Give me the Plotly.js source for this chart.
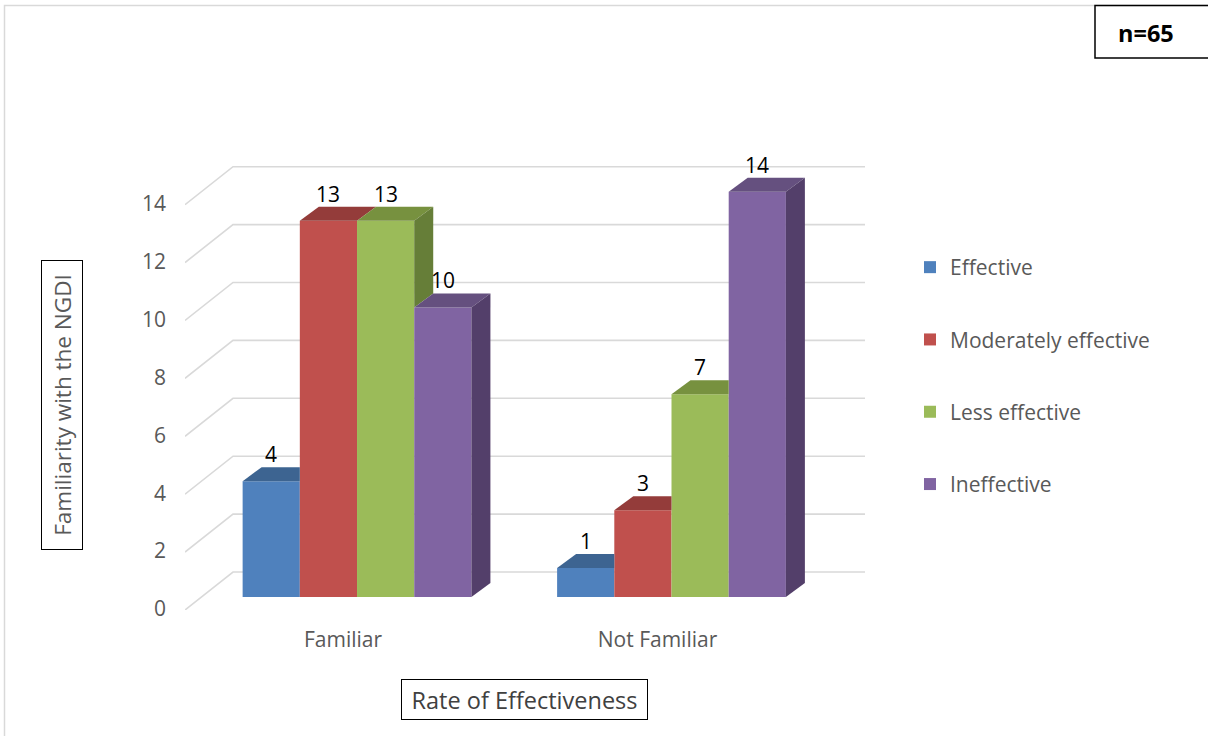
<!DOCTYPE html>
<html>
<head>
<meta charset="utf-8">
<script src="https://cdn.plot.ly/plotly-3.0.1.min.js"></script>
<style>
  html, body { margin: 0; padding: 0; background: #ffffff; }
  #chart { width: 1208px; height: 736px; }
</style>
</head>
<body>
<div id="chart"></div>
<script>
// ---- data ----
const categories = ['Familiar', 'Not Familiar'];
const seriesNames = ['Effective', 'Moderately effective', 'Less effective', 'Ineffective'];
const effective = [4, 1];
const moderatelyEffective = [13, 3];
const lessEffective = [13, 7];
const ineffective = [10, 14];
const yTickValues = [0, 2, 4, 6, 8, 10, 12, 14];
const sampleSizeLabel = 'n=65';
const xTitle = 'Rate of Effectiveness';
const yTitle = 'Familiarity with the NGDI';

const seriesValues = [effective, moderatelyEffective, lessEffective, ineffective];

// ---- styling ----
const frontColors = ['#4F81BD', '#C0504D', '#9BBB59', '#8064A2'];
const topColors   = ['#3D6491', '#943C3A', '#77913F', '#65507F'];
const sideColors  = ['#385C86', '#863633', '#667E38', '#533F6A'];
const FONT = 'Open Sans, Noto Sans, sans-serif';
const TEXT_GREY = '#595959';
const GRID_GREY = '#D9D9D9';

// ---- page / plot geometry (pixels) ----
const W = 1208, H = 736;
const margin = { l: 185, r: 343, t: 150, b: 126, pad: 0 };
const plotW = W - margin.l - margin.r;
const plotH = H - margin.t - margin.b;
const xRange = [-0.547, 1.6153];
const yRange = [-0.449, 15.44];
const pxPerX = plotW / (xRange[1] - xRange[0]);
const pxPerY = plotH / (yRange[1] - yRange[0]);
const bargap = 0.2725;
const barWidth = (1 - bargap) / seriesNames.length;

// depth of a single bar and of the whole floor, converted to axis units
const barDepth = { dx: 19 / pxPerX, dy: 14 / pxPerY };
const wallDepth = { dx: 48 / pxPerX, dy: 38 / pxPerY };
const floorFront = yRange[0];

// paper-coordinate helpers for page decorations
const paperX = px => (px - margin.l) / plotW;
const paperY = py => (H - margin.b - py) / plotH;

// ---- front faces: grouped bars ----
const traces = seriesNames.map((name, j) => ({
  type: 'bar',
  name: name,
  x: categories.map((c, i) => i),
  y: seriesValues[j],
  marker: { color: frontColors[j], line: { width: 0 } },
  legendgroup: name,
  hoverinfo: 'name+y'
}));

// ---- top and side faces of each bar ----
function barCenter(i, j) {
  return i + (j - (seriesNames.length - 1) / 2) * barWidth;
}
categories.forEach((c, i) => {
  seriesNames.forEach((name, j) => {
    const v = seriesValues[j][i];
    const next = j + 1 < seriesNames.length ? seriesValues[j + 1][i] : 0;
    const xc = barCenter(i, j);
    const xl = xc - barWidth / 2, xr = xc + barWidth / 2;
    const dx = barDepth.dx, dy = barDepth.dy;
    let topX, topY;
    if (next > v) {
      // the right part of the top face sits behind the taller neighbour
      topX = [xl, xr, xr, xl + dx, xl];
      topY = [v, v, v + dy, v + dy, v];
    } else {
      topX = [xl, xr, xr + dx, xl + dx, xl];
      topY = [v, v, v + dy, v + dy, v];
    }
    traces.push({
      type: 'scatter', mode: 'lines', x: topX, y: topY,
      fill: 'toself', fillcolor: topColors[j], line: { width: 0 },
      showlegend: false, hoverinfo: 'skip'
    });
    if (next < v) {
      traces.push({
        type: 'scatter', mode: 'lines',
        x: [xr, xr, xr + dx, xr + dx, xr],
        y: [next, v, v + dy, next + dy, next],
        fill: 'toself', fillcolor: sideColors[j], line: { width: 0 },
        showlegend: false, hoverinfo: 'skip'
      });
    }
  });
});

// ---- value labels above each bar ----
const annotations = [];
categories.forEach((c, i) => {
  seriesNames.forEach((name, j) => {
    const v = seriesValues[j][i];
    annotations.push({
      x: barCenter(i, j), y: v, xref: 'x', yref: 'y',
      text: String(v), showarrow: false, yshift: 27,
      font: { family: FONT, size: 21, color: '#000000' }
    });
  });
});

// axis titles drawn as boxed labels
annotations.push({
  xref: 'paper', yref: 'paper', x: paperX(62), y: paperY(405),
  xanchor: 'center', yanchor: 'middle',
  text: yTitle, textangle: -90, showarrow: false,
  width: 288, height: 40, borderpad: 0,
  bordercolor: '#000000', borderwidth: 1,
  font: { family: FONT, size: 22.5, color: TEXT_GREY }
});
annotations.push({
  xref: 'paper', yref: 'paper', x: paperX(524.5), y: paperY(699.5),
  xanchor: 'center', yanchor: 'middle',
  text: xTitle, showarrow: false,
  width: 245, height: 39, borderpad: 0,
  bordercolor: '#000000', borderwidth: 1,
  font: { family: FONT, size: 23.5, color: '#404040' }
});
annotations.push({
  xref: 'paper', yref: 'paper', x: paperX(1146), y: paperY(33),
  xanchor: 'center', yanchor: 'middle',
  text: '<b>' + sampleSizeLabel + '</b>', showarrow: false,
  font: { family: FONT, size: 23.5, color: '#000000' }
});

// ---- gridlines on the floor edge and back wall ----
const shapes = yTickValues.map(v => ({
  type: 'path', xref: 'x', yref: 'y', layer: 'below',
  path: 'M' + xRange[0] + ',' + (v + floorFront) +
        ' L' + (xRange[0] + wallDepth.dx) + ',' + (v + floorFront + wallDepth.dy) +
        ' L' + xRange[1] + ',' + (v + floorFront + wallDepth.dy),
  line: { color: GRID_GREY, width: 1.6 }
}));

// chart area outline and the sample size box
shapes.push({
  type: 'rect', xref: 'paper', yref: 'paper',
  x0: paperX(4.5), x1: paperX(1230), y0: paperY(760), y1: paperY(5.5),
  line: { color: GRID_GREY, width: 1.5 }
});
shapes.push({
  type: 'rect', xref: 'paper', yref: 'paper',
  x0: paperX(1095), x1: paperX(1230), y0: paperY(58), y1: paperY(5.5),
  line: { color: '#000000', width: 1.5 }
});

const layout = {
  width: W, height: H,
  margin: margin,
  paper_bgcolor: '#ffffff',
  plot_bgcolor: 'rgba(0,0,0,0)',
  barmode: 'group',
  bargap: bargap,
  bargroupgap: 0,
  showlegend: true,
  legend: {
    x: paperX(910), y: paperY(376), xanchor: 'left', yanchor: 'middle',
    font: { family: FONT, size: 21, color: TEXT_GREY },
    tracegroupgap: 42,
    bgcolor: 'rgba(0,0,0,0)'
  },
  xaxis: {
    range: xRange, fixedrange: true,
    tickvals: categories.map((c, i) => i), ticktext: categories,
    showgrid: false, zeroline: false, showline: false, ticks: '',
    ticklabelshift: -14, ticklabelstandoff: 15,
    tickfont: { family: FONT, size: 21, color: TEXT_GREY }
  },
  yaxis: {
    range: yRange, fixedrange: true,
    tickvals: yTickValues,
    showgrid: false, zeroline: false, showline: false, ticks: '',
    ticklabelshift: 12, ticklabelstandoff: 18,
    tickfont: { family: FONT, size: 21, color: TEXT_GREY }
  },
  shapes: shapes,
  annotations: annotations
};

Plotly.newPlot('chart', traces, layout, { displayModeBar: false, staticPlot: false });
</script>
</body>
</html>
